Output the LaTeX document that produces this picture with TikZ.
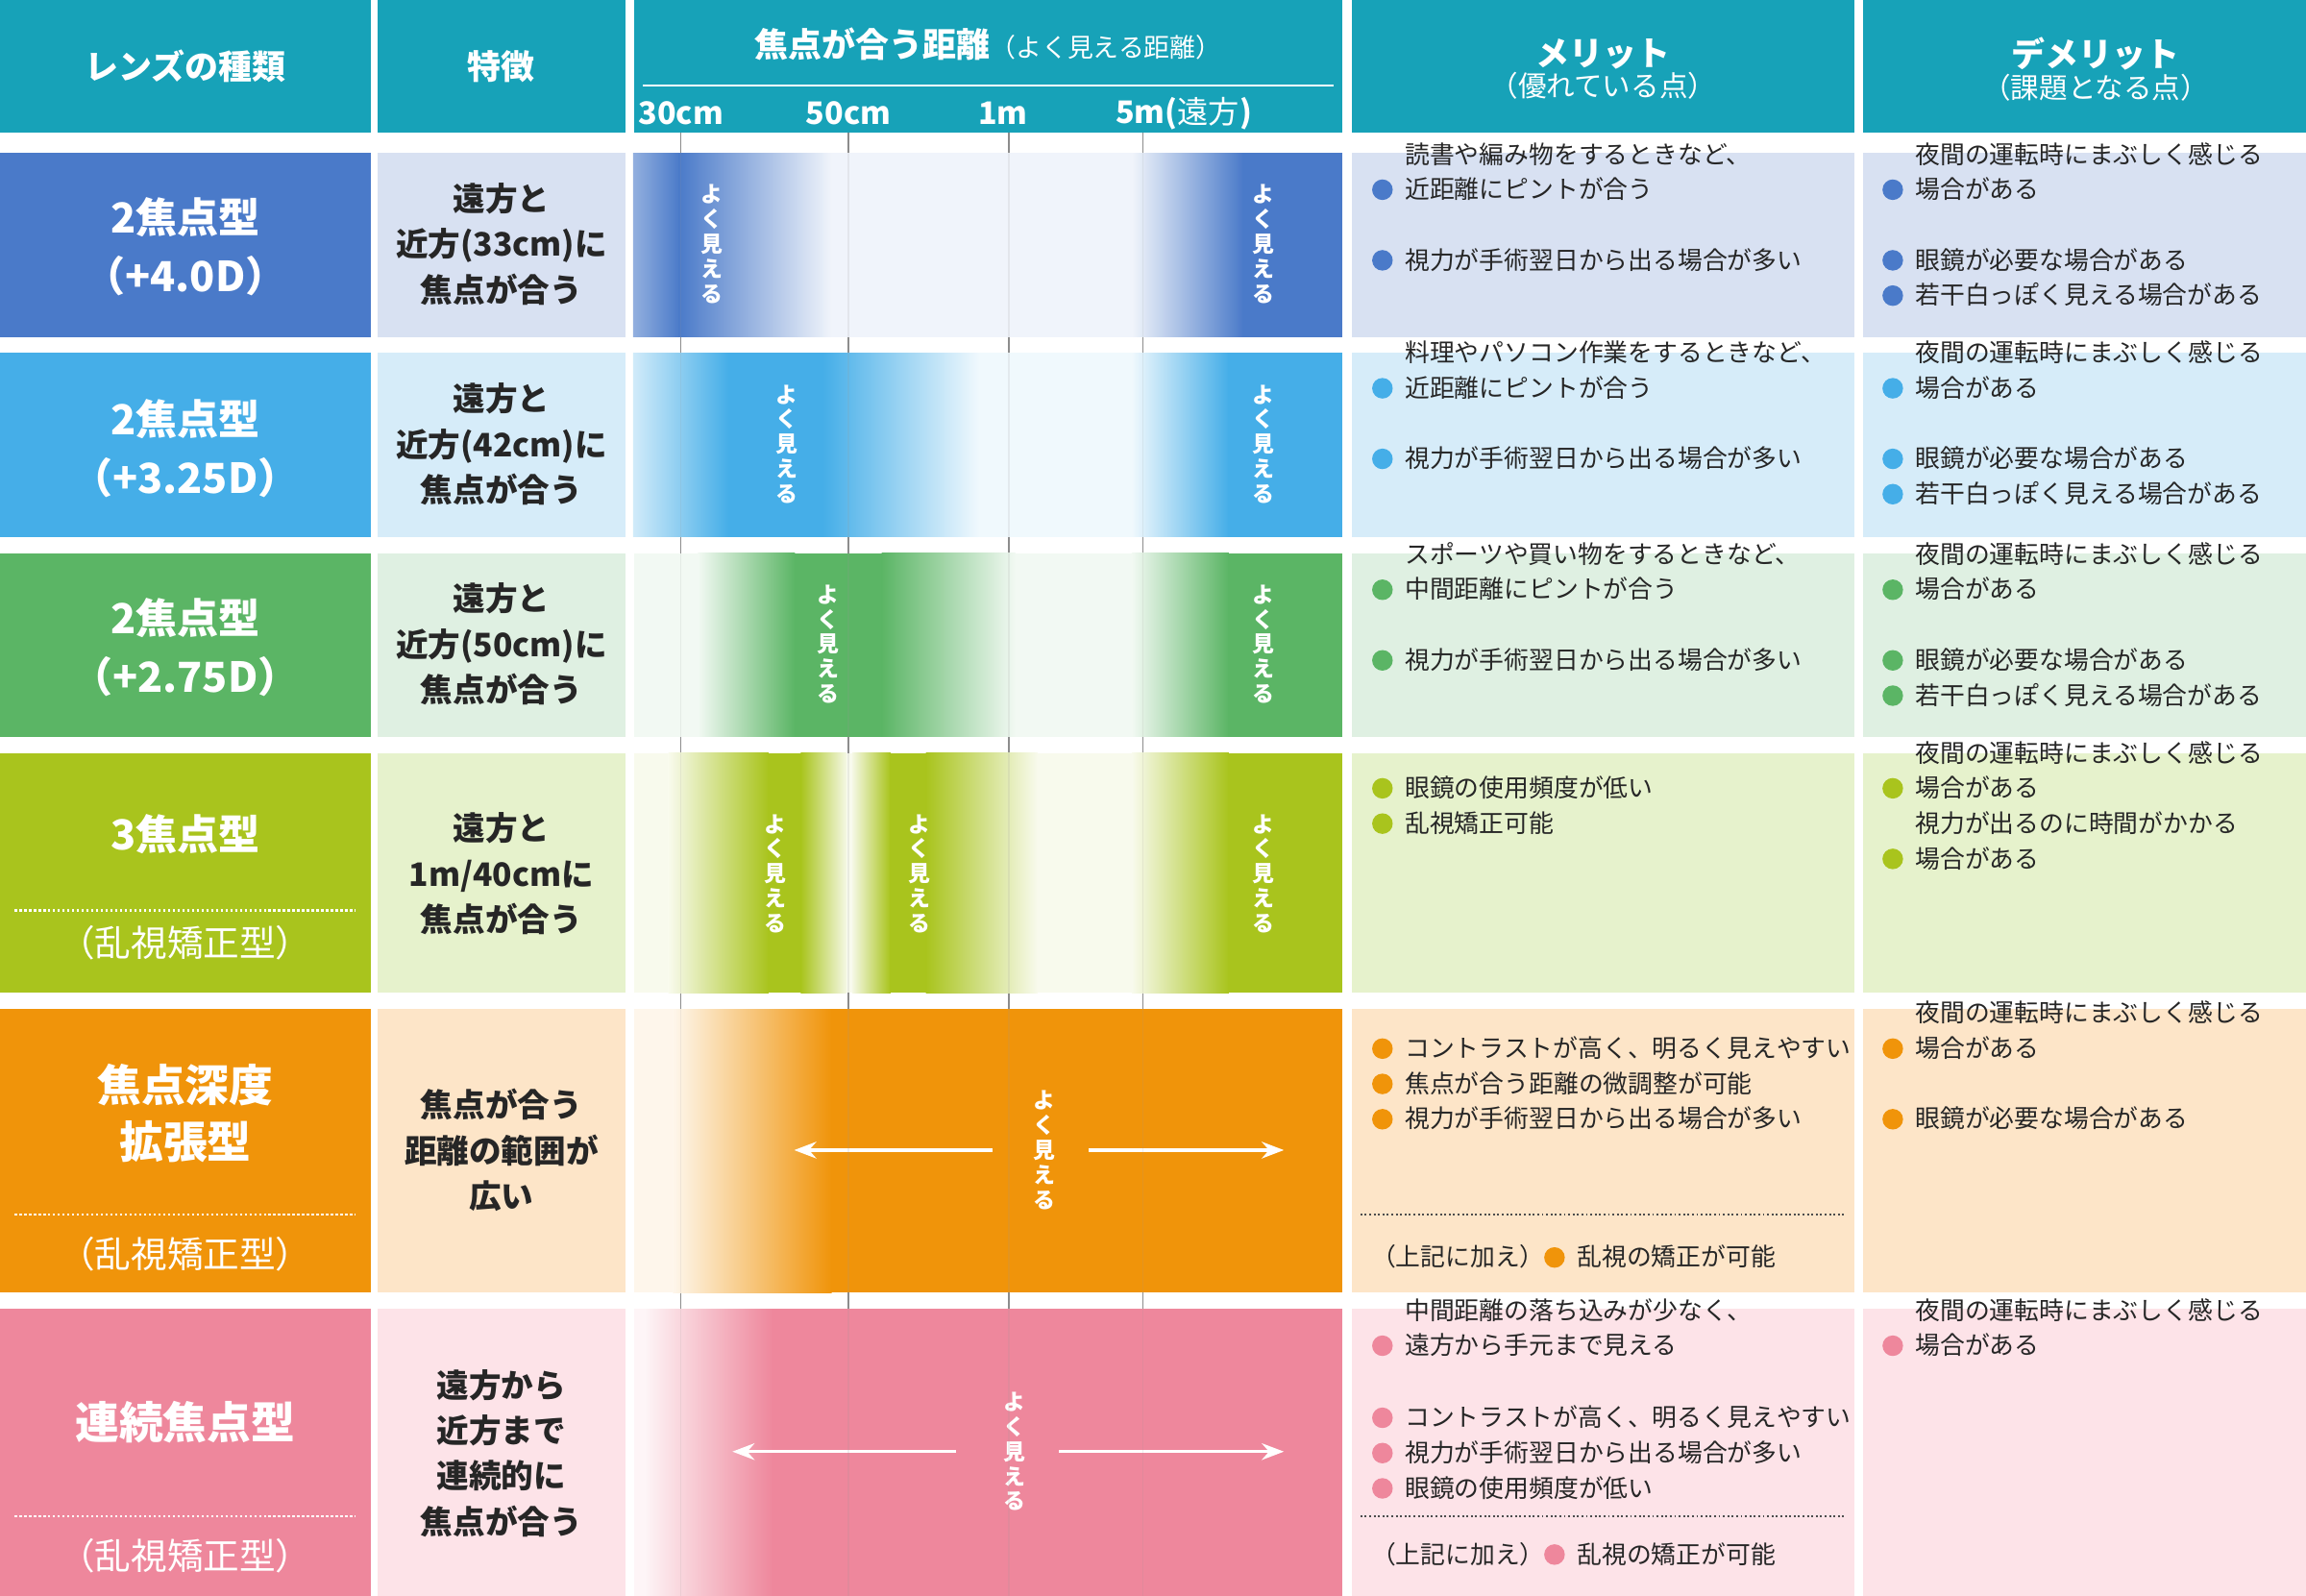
\documentclass[tikz,border=0pt]{standalone}
\usepackage{fontspec}
\setmainfont{Noto Sans CJK JP}
\usepackage{tikz}
\usetikzlibrary{arrows.meta}
\definecolor{hd}{HTML}{17A2B8}
\definecolor{ca}{HTML}{4A7AC9}\definecolor{cal}{HTML}{D8E1F2}
\definecolor{cb}{HTML}{45AEE8}\definecolor{cbl}{HTML}{D6ECF9}
\definecolor{cc}{HTML}{5BB565}\definecolor{ccl}{HTML}{DFF0E2}
\definecolor{cd}{HTML}{A9C41D}\definecolor{cdl}{HTML}{E6F2CC}
\definecolor{ce}{HTML}{F0940A}\definecolor{cel}{HTML}{FDE5C8}
\definecolor{cf}{HTML}{EE879C}\definecolor{cfl}{HTML}{FDE3E8}
\tikzset{
  hdr/.style={text=white,font=\bfseries\fontsize{13}{15}\selectfont,align=center},
  ttl/.style={text=white,font=\bfseries\fontsize{16}{22.7}\selectfont,align=center},
  feat/.style={text=black!85,font=\bfseries\fontsize{12.5}{17.6}\selectfont,align=center},
  txt/.style={text=black!85,font=\fontsize{9.6}{13.6}\selectfont,anchor=base west,align=left,inner sep=0pt},
  vt/.style={text=white,font=\bfseries\fontsize{8.5}{9.6}\selectfont,align=center,inner sep=0pt},
  sep/.style={white,densely dotted,line width=0.03cm},
  wa/.style={white,line width=0.045cm,-{Stealth[length=0.3cm]}}
}
\newcommand\grad[6]{\shade[left color=#3,right color=#4] (#1-0.5,#5) rectangle (#2+0.5,#6);}
\newcommand\pt[4]{\fill[#1] (#2-15,#3) circle (7); \node[txt] at (#2,#3+6) {#4};}
\begin{document}
\begin{tikzpicture}[x=0.02cm,y=-0.02cm]
	\useasboundingbox (0,0) rectangle (1568,1085);
	\fill[white] (0,0) rectangle (1568,1085);
	%ticks
	\foreach \tx in {463,577,686,777} \draw[black!45,line width=0.02cm] (\tx,90)--(\tx,1085);
	
	%header
	\fill[hd] (0,0) rectangle (252,90);
	\fill[hd] (257,0) rectangle (425,90);
	\fill[hd] (431,0) rectangle (913,90);
	\fill[hd] (919,0) rectangle (1261,90);
	\fill[hd] (1267,0) rectangle (1568,90);
	\node[hdr] (hkind) at (126,45) {レンズの種類};
	\node[hdr] (hfeat) at (341,45) {特徴};
	\node[hdr] (hdist) at (672,30) {焦点が合う距離{\mdseries\fontsize{10}{12}\selectfont（よく見える距離）}};
	\draw[white,line width=0.02cm] (437,58)--(907,58);
	\node[hdr,font=\bfseries\fontsize{12}{14}\selectfont] (t30) at (463,77) {30cm};
	\node[hdr,font=\bfseries\fontsize{12}{14}\selectfont] (t50) at (577,77) {50cm};
	\node[hdr,font=\bfseries\fontsize{12}{14}\selectfont] (t1m) at (682,77) {1m};
	\node[hdr,font=\bfseries\fontsize{12}{14}\selectfont] (t5m) at (805,77) {5m({\mdseries 遠方})};
	\node[hdr,font=\bfseries\fontsize{13}{14}\selectfont] (hmer) at (1090,47) {メリット\\[-2pt]{\mdseries\fontsize{11}{12}\selectfont（優れている点）}};
	\node[hdr,font=\bfseries\fontsize{13}{14}\selectfont] (hdem) at (1425,47) {デメリット\\[-2pt]{\mdseries\fontsize{11}{12}\selectfont（課題となる点）}};
	
	%row 1
	\fill[ca] (0,104) rectangle (252,229);
	\fill[cal] (257,104) rectangle (425,229);
	\fill[cal] (919,104) rectangle (1261,229);
	\fill[cal] (1267,104) rectangle (1568,229);
	\fill[ca!8] (431,104) rectangle (913,229);
	\grad{431}{462}{ca!60}{ca}{104}{229}
	\grad{462}{565}{ca}{ca!8}{104}{229}
	\grad{770}{845}{ca!8}{ca}{104}{229}
	\fill[ca] (845,104) rectangle (913,229);
	\node[ttl] (ra) at (126,168) {2焦点型\\（+4.0D）};
	\node[feat] (fa) at (341,166) {遠方と\\近方(33cm)に\\焦点が合う};
	\node[vt] at (484,166) {よ\\く\\見\\え\\る};
	\node[vt] at (859,166) {よ\\く\\見\\え\\る};
	\pt{ca}{955}{129}{読書や編み物をするときなど、\\近距離にピントが合う}
	\pt{ca}{955}{177}{視力が手術翌日から出る場合が多い}
	\pt{ca}{1302}{129}{夜間の運転時にまぶしく感じる\\場合がある}
	\pt{ca}{1302}{177}{眼鏡が必要な場合がある}
	\pt{ca}{1302}{201}{若干白っぽく見える場合がある}
	
	%row 2
	\fill[cb] (0,240) rectangle (252,365);
	\fill[cbl] (257,240) rectangle (425,365);
	\fill[cbl] (919,240) rectangle (1261,365);
	\fill[cbl] (1267,240) rectangle (1568,365);
	\fill[cb!8] (431,240) rectangle (913,365);
	\grad{431}{495}{cb!25}{cb}{240}{365}
	\fill[cb] (495,240) rectangle (560,365);
	\grad{560}{665}{cb}{cb!8}{240}{365}
	\grad{770}{835}{cb!8}{cb}{240}{365}
	\fill[cb] (835,240) rectangle (913,365);
	\node[ttl] (rb) at (126,305) {2焦点型\\（+3.25D）};
	\node[feat] (fb) at (341,302) {遠方と\\近方(42cm)に\\焦点が合う};
	\node[vt] at (535,302) {よ\\く\\見\\え\\る};
	\node[vt] at (859,302) {よ\\く\\見\\え\\る};
	\pt{cb}{955}{264}{料理やパソコン作業をするときなど、\\近距離にピントが合う}
	\pt{cb}{955}{312}{視力が手術翌日から出る場合が多い}
	\pt{cb}{1302}{264}{夜間の運転時にまぶしく感じる\\場合がある}
	\pt{cb}{1302}{312}{眼鏡が必要な場合がある}
	\pt{cb}{1302}{336}{若干白っぽく見える場合がある}
	
	%row 3
	\fill[cc] (0,376) rectangle (252,501);
	\fill[ccl] (257,376) rectangle (425,501);
	\fill[ccl] (919,376) rectangle (1261,501);
	\fill[ccl] (1267,376) rectangle (1568,501);
	\fill[cc!8] (431,376) rectangle (913,501);
	\grad{475}{540}{cc!8}{cc}{376}{501}
	\fill[cc] (540,376) rectangle (600,501);
	\grad{600}{690}{cc}{cc!8}{376}{501}
	\grad{770}{835}{cc!8}{cc}{376}{501}
	\fill[cc] (835,376) rectangle (913,501);
	\node[ttl] (rc) at (126,440) {2焦点型\\（+2.75D）};
	\node[feat] (fc) at (341,438) {遠方と\\近方(50cm)に\\焦点が合う};
	\node[vt] at (563,438) {よ\\く\\見\\え\\る};
	\node[vt] at (859,438) {よ\\く\\見\\え\\る};
	\pt{cc}{955}{401}{スポーツや買い物をするときなど、\\中間距離にピントが合う}
	\pt{cc}{955}{449}{視力が手術翌日から出る場合が多い}
	\pt{cc}{1302}{401}{夜間の運転時にまぶしく感じる\\場合がある}
	\pt{cc}{1302}{449}{眼鏡が必要な場合がある}
	\pt{cc}{1302}{473}{若干白っぽく見える場合がある}
	
	%row 4
	\fill[cd] (0,512) rectangle (252,675);
	\fill[cdl] (257,512) rectangle (425,675);
	\fill[cdl] (919,512) rectangle (1261,675);
	\fill[cdl] (1267,512) rectangle (1568,675);
	\fill[cd!8] (431,512) rectangle (913,675);
	\grad{455}{522}{cd!8}{cd}{512}{675}
	\fill[cd] (522,512) rectangle (545,675);
	\grad{545}{575}{cd}{cd!12}{512}{675}
	\grad{580}{605}{cd!12}{cd}{512}{675}
	\fill[cd] (605,512) rectangle (630,675);
	\grad{630}{705}{cd}{cd!8}{512}{675}
	\grad{770}{835}{cd!8}{cd}{512}{675}
	\fill[cd] (835,512) rectangle (913,675);
	\node[ttl] (rd) at (126,567) {3焦点型};
	\draw[sep] (10,619)--(242,619);
	\node[ttl,font=\fontsize{14}{16}\selectfont] (rd2) at (126,641) {（乱視矯正型）};
	\node[feat] (fd) at (341,594) {遠方と\\1m/40cmに\\焦点が合う};
	\node[vt] at (527,594) {よ\\く\\見\\え\\る};
	\node[vt] at (625,594) {よ\\く\\見\\え\\る};
	\node[vt] at (859,594) {よ\\く\\見\\え\\る};
	\pt{cd}{955}{536}{眼鏡の使用頻度が低い}
	\pt{cd}{955}{560}{乱視矯正可能}
	\pt{cd}{1302}{536}{夜間の運転時にまぶしく感じる\\場合がある}
	\pt{cd}{1302}{584}{視力が出るのに時間がかかる\\場合がある}
	
	%row 5
	\fill[ce] (0,686) rectangle (252,879);
	\fill[cel] (257,686) rectangle (425,879);
	\fill[cel] (919,686) rectangle (1261,879);
	\fill[cel] (1267,686) rectangle (1568,879);
	\fill[ce!8] (431,686) rectangle (913,879);
	\grad{458}{565}{ce!8}{ce}{686}{879}
	\fill[ce] (565,686) rectangle (913,879);
	\node[ttl,font=\bfseries\fontsize{17}{22}\selectfont] (re) at (126,757) {焦点深度\\拡張型};
	\draw[sep] (10,826)--(242,826);
	\node[ttl,font=\fontsize{14}{16}\selectfont] (re2) at (126,853) {（乱視矯正型）};
	\node[feat] (fe) at (341,782) {焦点が合う\\距離の範囲が\\広い};
	\node[vt] (ve) at (710,782) {よ\\く\\見\\え\\る};
	\coordinate (el) at (540,782); \coordinate (er) at (873,782);
	\draw[wa] (675,782)--(el);
	\draw[wa] (740,782)--(er);
	\pt{ce}{955}{713}{コントラストが高く、明るく見えやすい}
	\pt{ce}{955}{737}{焦点が合う距離の微調整が可能}
	\pt{ce}{955}{761}{視力が手術翌日から出る場合が多い}
	\draw[black!70,densely dotted,line width=0.025cm] (925,826)--(1254,826);
	\node[txt] (ke) at (932,861) {（上記に加え）};
	\pt{ce}{1072}{855}{乱視の矯正が可能}
	\pt{ce}{1302}{713}{夜間の運転時にまぶしく感じる\\場合がある}
	\pt{ce}{1302}{761}{眼鏡が必要な場合がある}
	
	%row 6
	\fill[cf] (0,890) rectangle (252,1085);
	\fill[cfl] (257,890) rectangle (425,1085);
	\fill[cfl] (919,890) rectangle (1261,1085);
	\fill[cfl] (1267,890) rectangle (1568,1085);
	\fill[cf!8] (431,890) rectangle (913,1085);
	\grad{440}{525}{cf!10}{cf}{890}{1085}
	\fill[cf] (525,890) rectangle (913,1085);
	\node[ttl,font=\bfseries\fontsize{17}{22}\selectfont] (rf) at (126,967) {連続焦点型};
	\draw[sep] (10,1031)--(242,1031);
	\node[ttl,font=\fontsize{14}{16}\selectfont] (rf2) at (126,1058) {（乱視矯正型）};
	\node[feat] (ff) at (341,988) {遠方から\\近方まで\\連続的に\\焦点が合う};
	\node[vt] (vf) at (690,987) {よ\\く\\見\\え\\る};
	\coordinate (fl) at (498,987); \coordinate (fr) at (873,987);
	\draw[wa] (650,987)--(fl);
	\draw[wa] (720,987)--(fr);
	\pt{cf}{955}{915}{中間距離の落ち込みが少なく、\\遠方から手元まで見える}
	\pt{cf}{955}{964}{コントラストが高く、明るく見えやすい}
	\pt{cf}{955}{988}{視力が手術翌日から出る場合が多い}
	\pt{cf}{955}{1012}{眼鏡の使用頻度が低い}
	\draw[black!70,densely dotted,line width=0.025cm] (925,1031)--(1254,1031);
	\node[txt] (kf) at (932,1063) {（上記に加え）};
	\pt{cf}{1072}{1057}{乱視の矯正が可能}
	\pt{cf}{1302}{915}{夜間の運転時にまぶしく感じる\\場合がある}
	
	%ticks over bands
	\foreach \tx in {463,577,686,777} \draw[black!40,opacity=0.15,line width=0.02cm] (\tx,104)--(\tx,1085);
\end{tikzpicture}
\end{document}
